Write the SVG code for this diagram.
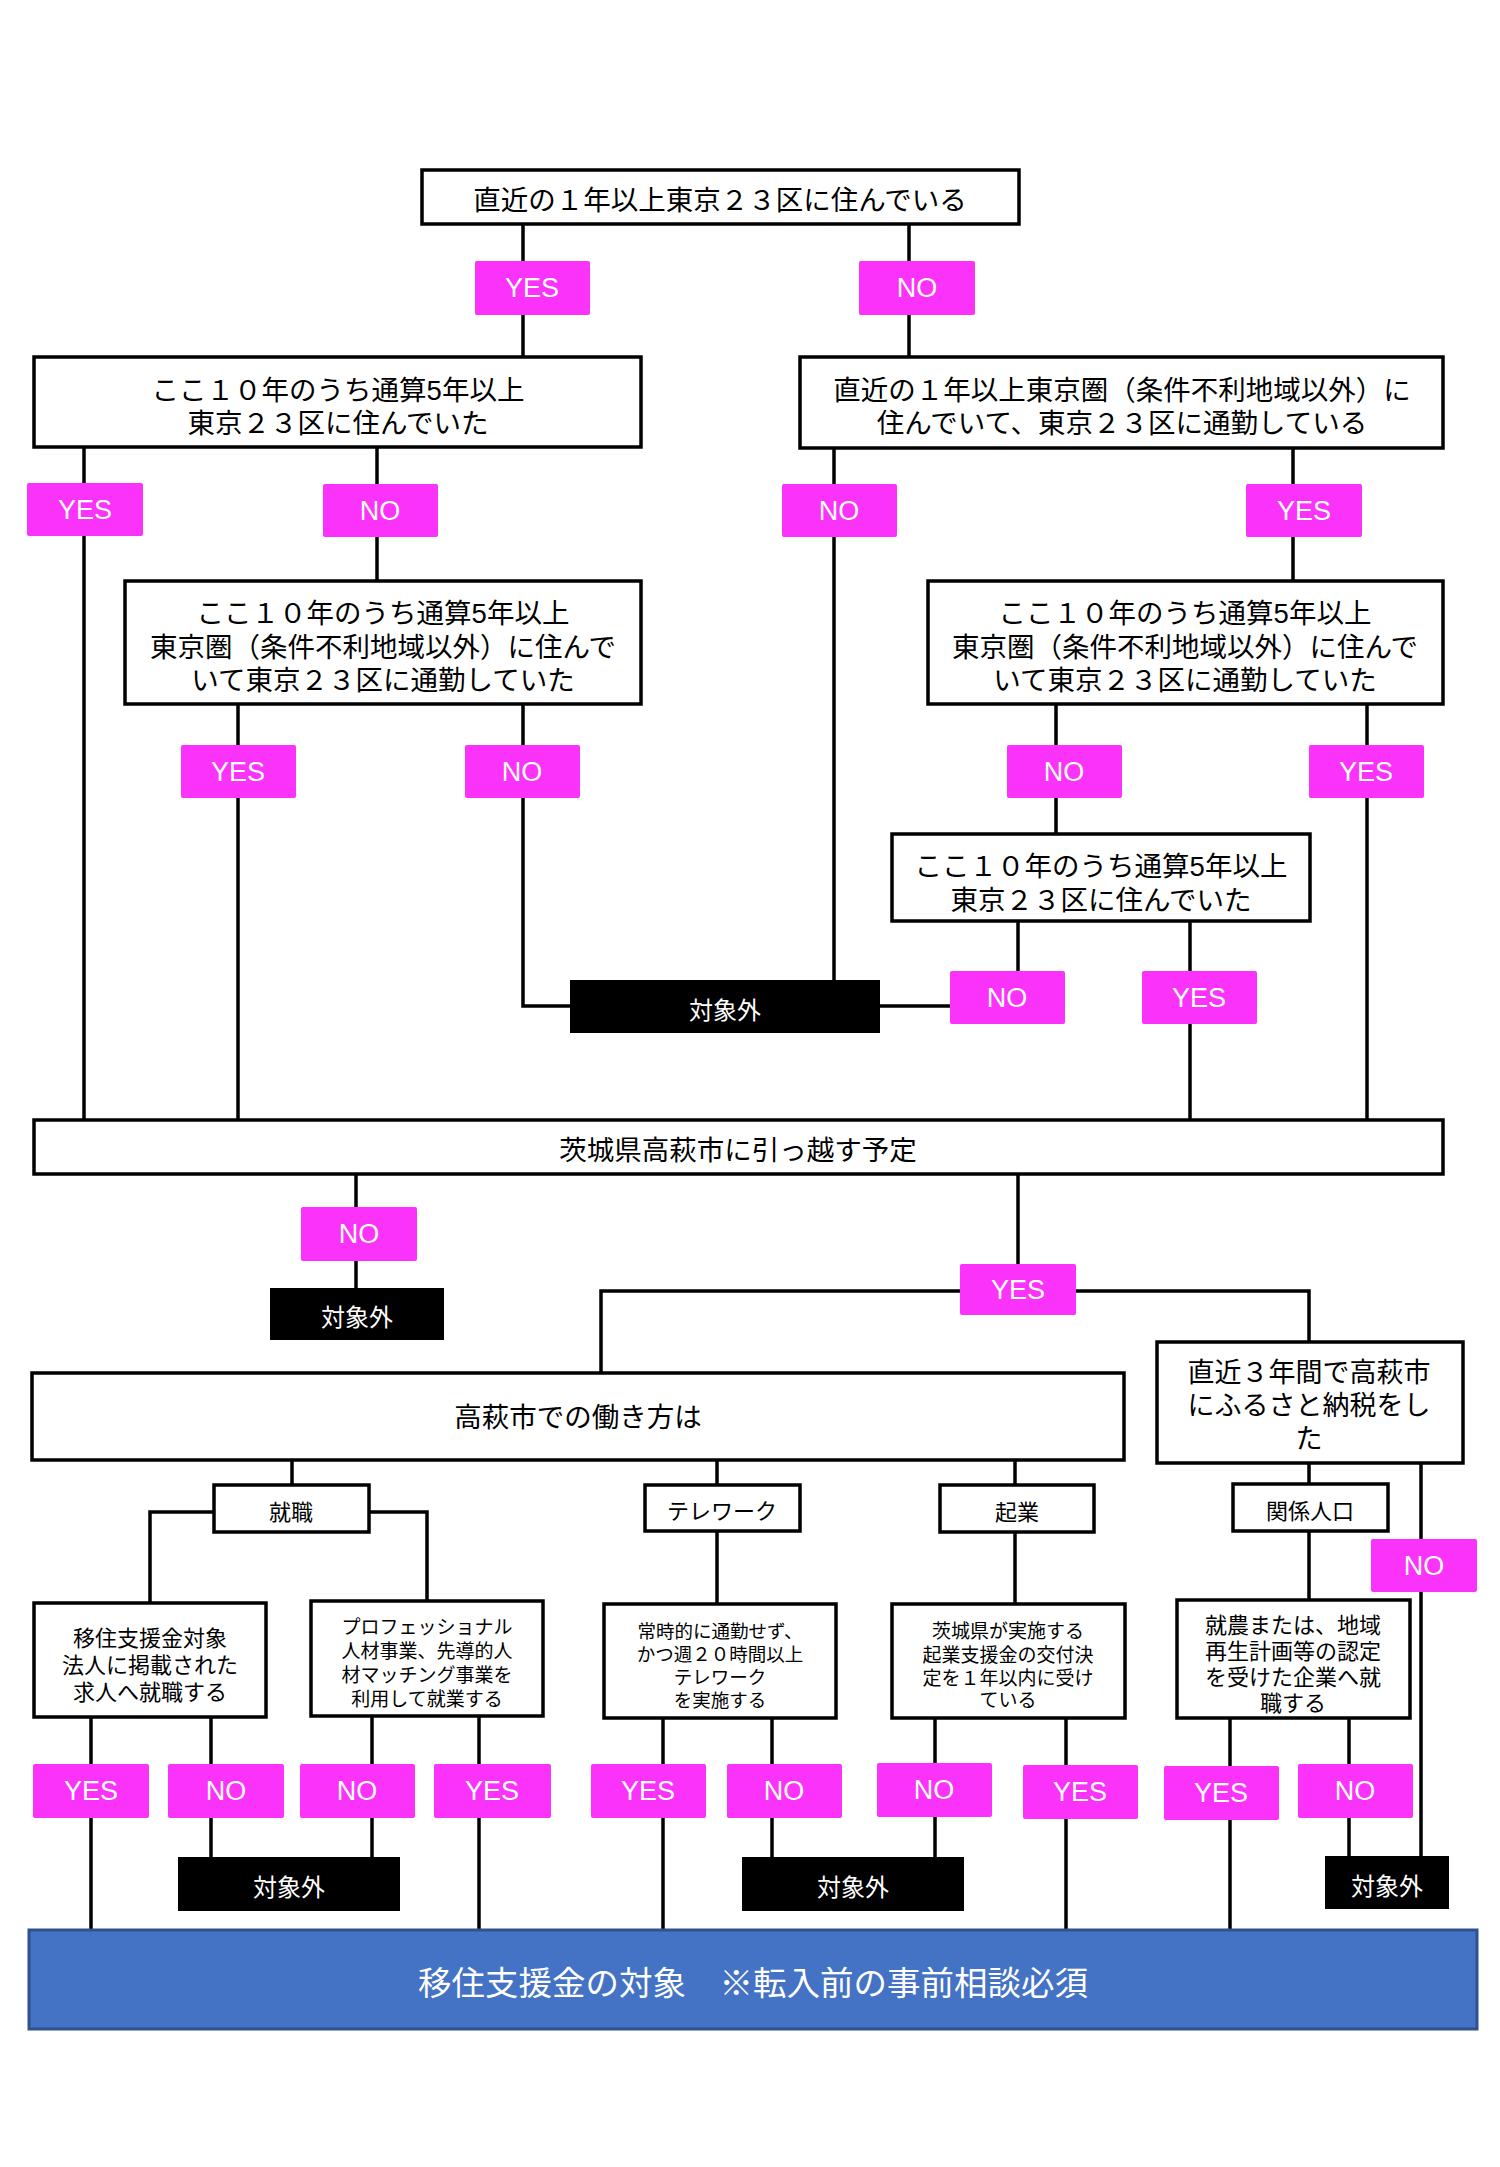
<svg xmlns="http://www.w3.org/2000/svg" width="1500" height="2167" viewBox="0 0 1500 2167">
<style>
.bg{fill:#fff}
.box{fill:#fff;stroke:#000;stroke-width:3.5}
.lbl{fill:#FA32FA}
.out{fill:#000}
.blue{fill:#4472C4;stroke:#2F528F;stroke-width:3}
.t{font-family:"Liberation Sans","Noto Sans CJK JP","Noto Sans CJK SC",sans-serif;fill:#000;text-anchor:middle;dominant-baseline:central;transform:translate(0px,3px)}
.w{fill:#fff}
.yn{font-family:"Liberation Sans",Arial,sans-serif;fill:#fff;font-size:27px;text-anchor:middle;dominant-baseline:central}
.con path{stroke:#000;stroke-width:3.5;fill:none}
</style>
<rect class="bg" x="0" y="0" width="1500" height="2167"/>
<g id="connectors" class="con">
<path d="M523 224V357"/>
<path d="M909 224V357"/>
<path d="M84 447V1120"/>
<path d="M377 447V581"/>
<path d="M238 704V1120"/>
<path d="M523 704V1006H570"/>
<path d="M834 448V980"/>
<path d="M1293 448V581"/>
<path d="M1056 704V834"/>
<path d="M1367 704V1120"/>
<path d="M1018 921V971"/>
<path d="M880 1006H950"/>
<path d="M1190 921V1120"/>
<path d="M356 1174V1288"/>
<path d="M1018 1174V1291"/>
<path d="M601 1373V1291H1309V1342"/>
<path d="M292 1460V1485"/>
<path d="M214 1512H150V1603"/>
<path d="M369 1512H427V1601"/>
<path d="M717 1460V1604"/>
<path d="M1015 1460V1604"/>
<path d="M1309 1463V1600"/>
<path d="M1421 1463V1856"/>
<path d="M91 1717V1930"/>
<path d="M211 1717V1857"/>
<path d="M372 1716V1857"/>
<path d="M479 1716V1930"/>
<path d="M663 1718V1930"/>
<path d="M772 1718V1857"/>
<path d="M935 1718V1857"/>
<path d="M1066 1718V1930"/>
<path d="M1230 1718V1930"/>
<path d="M1349 1718V1856"/>
</g>
<g id="q1"><rect class="box" x="422" y="170" width="597" height="54"/><text class="t" x="720" y="197" font-size="27.5">直近の１年以上東京２３区に住んでいる</text></g>
<g id="q2"><rect class="box" x="34" y="357" width="607" height="90"/><text class="t" x="338" y="387" font-size="27.5"><tspan x="338" y="387">ここ１０年のうち通算5年以上</tspan><tspan x="338" y="420">東京２３区に住んでいた</tspan></text></g>
<g id="q3"><rect class="box" x="125" y="581" width="516" height="123"/><text class="t" x="383" y="610" font-size="27.5"><tspan x="383" y="610">ここ１０年のうち通算5年以上</tspan><tspan x="383" y="644">東京圏（条件不利地域以外）に住んで</tspan><tspan x="383" y="677">いて東京２３区に通勤していた</tspan></text></g>
<g id="q4"><rect class="box" x="800" y="357" width="643" height="91"/><text class="t" x="1122" y="387" font-size="27.5"><tspan x="1122" y="387">直近の１年以上東京圏（条件不利地域以外）に</tspan><tspan x="1122" y="420">住んでいて、東京２３区に通勤している</tspan></text></g>
<g id="q5"><rect class="box" x="928" y="581" width="515" height="123"/><text class="t" x="1185" y="610" font-size="27.5"><tspan x="1185" y="610">ここ１０年のうち通算5年以上</tspan><tspan x="1185" y="644">東京圏（条件不利地域以外）に住んで</tspan><tspan x="1185" y="677">いて東京２３区に通勤していた</tspan></text></g>
<g id="q6"><rect class="box" x="892" y="834" width="418" height="87"/><text class="t" x="1101" y="863" font-size="27.5"><tspan x="1101" y="863">ここ１０年のうち通算5年以上</tspan><tspan x="1101" y="897">東京２３区に住んでいた</tspan></text></g>
<g id="q7"><rect class="box" x="34" y="1120" width="1409" height="54"/><text class="t" x="738" y="1147" font-size="27.5">茨城県高萩市に引っ越す予定</text></g>
<g id="q8"><rect class="box" x="32" y="1373" width="1092" height="87"/><text class="t" x="578" y="1414" font-size="27.5">高萩市での働き方は</text></g>
<g id="q9"><rect class="box" x="1157" y="1342" width="306" height="121"/><text class="t" x="1309" y="1370" font-size="27"><tspan x="1309" y="1370">直近３年間で高萩市</tspan><tspan x="1309" y="1403">にふるさと納税をし</tspan><tspan x="1309" y="1436">た</tspan></text></g>
<g id="c1"><rect class="box" x="214" y="1485" width="155" height="47"/><text class="t" x="291" y="1509" font-size="22">就職</text></g>
<g id="c2"><rect class="box" x="645" y="1485" width="155" height="46"/><text class="t" x="722" y="1508" font-size="22">テレワーク</text></g>
<g id="c3"><rect class="box" x="940" y="1485" width="154" height="47"/><text class="t" x="1017" y="1509" font-size="22">起業</text></g>
<g id="c4"><rect class="box" x="1233" y="1484" width="155" height="47"/><text class="t" x="1310" y="1508" font-size="22">関係人口</text></g>
<g id="s1"><rect class="box" x="34" y="1603" width="232" height="114"/><text class="t" x="150" y="1635" font-size="22"><tspan x="150" y="1635">移住支援金対象</tspan><tspan x="150" y="1662">法人に掲載された</tspan><tspan x="150" y="1689">求人へ就職する</tspan></text></g>
<g id="s2"><rect class="box" x="311" y="1601" width="232" height="115"/><text class="t" x="427" y="1624" font-size="19"><tspan x="427" y="1624">プロフェッショナル</tspan><tspan x="427" y="1648">人材事業、先導的人</tspan><tspan x="427" y="1672">材マッチング事業を</tspan><tspan x="427" y="1696">利用して就業する</tspan></text></g>
<g id="s3"><rect class="box" x="604" y="1604" width="232" height="114"/><text class="t" x="720" y="1628" font-size="18.5"><tspan x="720" y="1628">常時的に通勤せず、</tspan><tspan x="720" y="1651">かつ週２０時間以上</tspan><tspan x="720" y="1674">テレワーク</tspan><tspan x="720" y="1697">を実施する</tspan></text></g>
<g id="s4"><rect class="box" x="892" y="1604" width="233" height="114"/><text class="t" x="1008" y="1628" font-size="19"><tspan x="1008" y="1628">茨城県が実施する</tspan><tspan x="1008" y="1652">起業支援金の交付決</tspan><tspan x="1008" y="1675">定を１年以内に受け</tspan><tspan x="1008" y="1697">ている</tspan></text></g>
<g id="s5"><rect class="box" x="1177" y="1600" width="233" height="118"/><text class="t" x="1293" y="1622" font-size="22"><tspan x="1293" y="1622">就農または、地域</tspan><tspan x="1293" y="1648">再生計画等の認定</tspan><tspan x="1293" y="1674">を受けた企業へ就</tspan><tspan x="1293" y="1700">職する</tspan></text></g>
<g id="o1"><rect class="out" x="570" y="980" width="310" height="53"/><text class="t w" x="725" y="1007" font-size="24">対象外</text></g>
<g id="o2"><rect class="out" x="270" y="1288" width="174" height="52"/><text class="t w" x="357" y="1314" font-size="24">対象外</text></g>
<g id="o3"><rect class="out" x="178" y="1857" width="222" height="54"/><text class="t w" x="289" y="1884" font-size="24">対象外</text></g>
<g id="o4"><rect class="out" x="742" y="1857" width="222" height="54"/><text class="t w" x="853" y="1884" font-size="24">対象外</text></g>
<g id="o5"><rect class="out" x="1325" y="1856" width="124" height="53"/><text class="t w" x="1387" y="1883" font-size="24">対象外</text></g>
<g id="goal"><rect class="blue" x="29" y="1930" width="1448" height="99"/><text class="t w" x="753" y="1980" font-size="33.5">移住支援金の対象　※転入前の事前相談必須</text></g>
<g id="l1"><rect class="lbl" x="475" y="261" width="115" height="54" rx="2"/><text class="yn" x="532" y="288">YES</text></g>
<g id="l2"><rect class="lbl" x="859" y="261" width="116" height="54" rx="2"/><text class="yn" x="917" y="288">NO</text></g>
<g id="l3"><rect class="lbl" x="27" y="483" width="116" height="53" rx="2"/><text class="yn" x="85" y="510">YES</text></g>
<g id="l4"><rect class="lbl" x="323" y="484" width="115" height="53" rx="2"/><text class="yn" x="380" y="511">NO</text></g>
<g id="l5"><rect class="lbl" x="782" y="484" width="115" height="53" rx="2"/><text class="yn" x="839" y="511">NO</text></g>
<g id="l6"><rect class="lbl" x="1246" y="484" width="116" height="53" rx="2"/><text class="yn" x="1304" y="511">YES</text></g>
<g id="l7"><rect class="lbl" x="181" y="745" width="115" height="53" rx="2"/><text class="yn" x="238" y="772">YES</text></g>
<g id="l8"><rect class="lbl" x="465" y="745" width="115" height="53" rx="2"/><text class="yn" x="522" y="772">NO</text></g>
<g id="l9"><rect class="lbl" x="1007" y="745" width="115" height="53" rx="2"/><text class="yn" x="1064" y="772">NO</text></g>
<g id="l10"><rect class="lbl" x="1309" y="745" width="115" height="53" rx="2"/><text class="yn" x="1366" y="772">YES</text></g>
<g id="l11"><rect class="lbl" x="950" y="971" width="115" height="53" rx="2"/><text class="yn" x="1007" y="998">NO</text></g>
<g id="l12"><rect class="lbl" x="1142" y="971" width="115" height="53" rx="2"/><text class="yn" x="1199" y="998">YES</text></g>
<g id="l13"><rect class="lbl" x="301" y="1207" width="116" height="54" rx="2"/><text class="yn" x="359" y="1234">NO</text></g>
<g id="l14"><rect class="lbl" x="960" y="1264" width="116" height="51" rx="2"/><text class="yn" x="1018" y="1290">YES</text></g>
<g id="l15"><rect class="lbl" x="1371" y="1539" width="106" height="53" rx="2"/><text class="yn" x="1424" y="1566">NO</text></g>
<g id="l16"><rect class="lbl" x="33" y="1764" width="116" height="54" rx="2"/><text class="yn" x="91" y="1791">YES</text></g>
<g id="l17"><rect class="lbl" x="168" y="1764" width="116" height="54" rx="2"/><text class="yn" x="226" y="1791">NO</text></g>
<g id="l18"><rect class="lbl" x="300" y="1764" width="115" height="54" rx="2"/><text class="yn" x="357" y="1791">NO</text></g>
<g id="l19"><rect class="lbl" x="434" y="1764" width="117" height="54" rx="2"/><text class="yn" x="492" y="1791">YES</text></g>
<g id="l20"><rect class="lbl" x="591" y="1764" width="115" height="54" rx="2"/><text class="yn" x="648" y="1791">YES</text></g>
<g id="l21"><rect class="lbl" x="727" y="1764" width="115" height="54" rx="2"/><text class="yn" x="784" y="1791">NO</text></g>
<g id="l22"><rect class="lbl" x="877" y="1763" width="115" height="54" rx="2"/><text class="yn" x="934" y="1790">NO</text></g>
<g id="l23"><rect class="lbl" x="1023" y="1765" width="115" height="54" rx="2"/><text class="yn" x="1080" y="1792">YES</text></g>
<g id="l24"><rect class="lbl" x="1164" y="1766" width="115" height="54" rx="2"/><text class="yn" x="1221" y="1793">YES</text></g>
<g id="l25"><rect class="lbl" x="1298" y="1764" width="115" height="54" rx="2"/><text class="yn" x="1355" y="1791">NO</text></g>
</svg>
